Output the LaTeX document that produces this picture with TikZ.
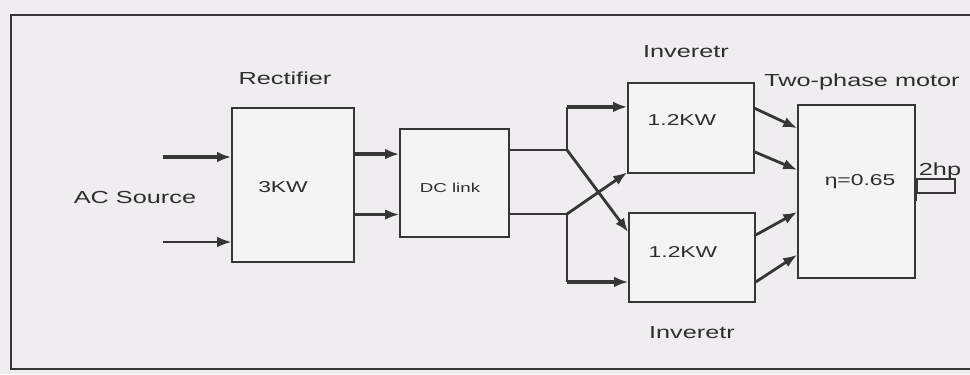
\documentclass[tikz,border=0pt]{standalone}
\usepackage{fontspec}
\setmainfont{Liberation Sans}[FakeStretch=1.45]
\usetikzlibrary{positioning, calc, arrows.meta}
\definecolor{Paper}{HTML}{EFEDEF}
\definecolor{Ink}{HTML}{363636}
\definecolor{Txt}{HTML}{2E2E2E}
\tikzset{
    blockbox/.style={rectangle, draw=Ink, line width=1pt, fill=Paper!60!white, inner sep=0pt},
    lbl/.style={text=Txt, font=\fontsize{12.4}{14}\selectfont, inner sep=0pt},
    inlbl/.style={text=Txt, font=\fontsize{11.2}{13}\selectfont, inner sep=0pt},
    wire/.style={draw=Ink, line width=1pt},
    bigarrow/.style={draw=Ink, line width=2.4pt, -{Latex[length=10pt,width=7.5pt]}},
    midarrow/.style={draw=Ink, line width=2pt, -{Latex[length=10pt,width=7.5pt]}},
    thinarrow/.style={draw=Ink, line width=1.3pt, -{Latex[length=10pt,width=7.5pt]}},
}
\begin{document}
\begin{tikzpicture}[x=0.025cm, y=-0.025cm]
    % paper and frame
    \fill[Paper] (0,0) rectangle (970,374);
    \useasboundingbox (0,0) rectangle (970,374);
    \draw[Ink, line width=1.2pt] (975,15) -- (11,15) -- (11,369) -- (975,369);

    % blocks
    \node[blockbox, minimum width=3.05cm, minimum height=3.85cm] (rect) at (293,185) {};
    \node[blockbox, minimum width=2.725cm, minimum height=2.7cm] (dc) at (454.5,183) {};
    \node[blockbox, minimum width=3.15cm, minimum height=2.25cm] (inv1) at (691,128) {};
    \node[blockbox, minimum width=3.15cm, minimum height=2.225cm] (inv2) at (692,257.5) {};
    \node[blockbox, minimum width=2.925cm, minimum height=4.325cm] (motor) at (856.5,191.5) {};

    % texts
    \node[lbl] (rectname) at (285,78) {Rectifier};
    \node[lbl] (acsrc) at (135,197) {AC Source};
    \node[inlbl] (recttxt) at (283,187) {3KW};
    \node[inlbl, font=\fontsize{9.2}{10}\selectfont] (dctxt) at (450,188) {DC link};
    \node[lbl] (inv1name) at (686,52) {Inveretr};
    \node[lbl] (inv2name) at (692,333) {Inveretr};
    \node[inlbl] (inv1txt) at (682,120) {1.2KW};
    \node[inlbl] (inv2txt) at (683,252) {1.2KW};
    \node[lbl] (motorname) at (862,82) {Two-phase motor};
    \node[inlbl] (motortxt) at (860,182) {η=0.65};
    \node[lbl] (hp) at (940,171) {2hp};

    % AC inputs
    \coordinate (ac1) at (163,157);
    \coordinate (ac2) at (163,242);
    \draw[bigarrow] (ac1) -- (ac1 -| rect.west);
    \draw[thinarrow] (ac2) -- (ac2 -| rect.west);

    % rectifier to DC link
    \draw[bigarrow] ([yshift=22pt]rect.east) -- ([yshift=22pt]rect.east -| dc.west);
    \draw[bigarrow] ([yshift=-21pt]rect.east) -- ([yshift=-21pt]rect.east -| dc.west);

    % DC link to inverters
    \coordinate (j1) at (567,150);
    \coordinate (j2) at (567,214);
    \draw[wire] (j1 -| dc.east) -- (j1);
    \draw[wire] (j2 -| dc.east) -- (j2);
    \coordinate (i1a) at ([yshift=15pt]inv1.west);
    \coordinate (i2b) at ([yshift=-17.4pt]inv2.west);
    \draw[wire] (j1) -- (j1 |- i1a);
    \draw[bigarrow] (j1 |- i1a) -- (i1a);
    \draw[wire] (j2) -- (j2 |- i2b);
    \draw[bigarrow] (j2 |- i2b) -- (i2b);
    \draw[midarrow] (j1) -- ([yshift=18pt]inv2.west);
    \draw[midarrow] (j2) -- ([yshift=1pt]inv1.south west);

    % inverters to motor
    \draw[midarrow] ([yshift=14pt]inv1.east) -- ([yshift=45pt]motor.west);
    \draw[midarrow] ([yshift=-17pt]inv1.east) -- ([yshift=15.3pt]motor.west);
    \draw[midarrow] ([yshift=16pt]inv2.east) -- ([yshift=-14.6pt]motor.west);
    \draw[midarrow] ([yshift=-17.4pt]inv2.east) -- ([yshift=-45pt]motor.west);

    % shaft
    \draw[wire] (917,179) rectangle (955,193);
    \draw[Ink, line width=2pt] (916,180) -- (916,201);
\end{tikzpicture}
\end{document}
